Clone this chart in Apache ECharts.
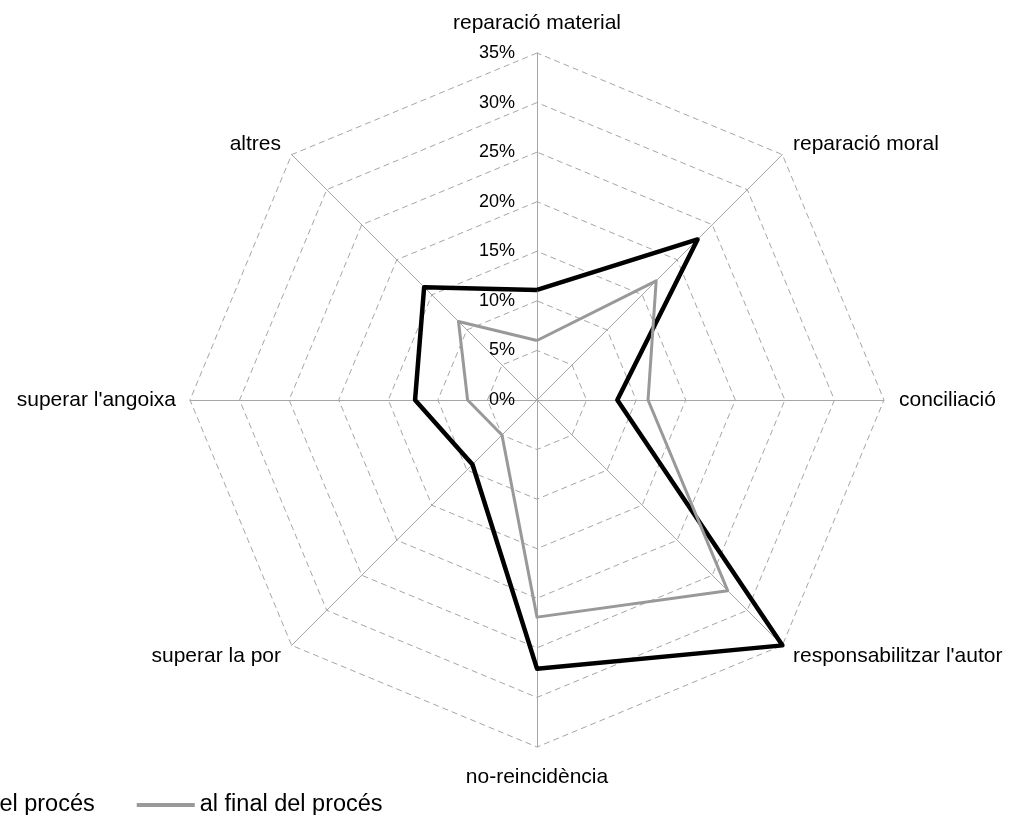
<!DOCTYPE html>
<html>
<head>
<meta charset="utf-8">
<script src="https://cdn.jsdelivr.net/npm/echarts@6/dist/echarts.min.js"></script>
<style>html,body{margin:0;padding:0;background:#fff}#c{width:1012px;height:815px}</style>
</head>
<body>
<div id="c"></div>
<script>
// Categories listed in ECharts radar order (starting at top, going counterclockwise)
const categories = ["reparació material", "altres", "superar l'angoixa", "superar la por",
  "no-reincidència", "responsabilitzar l'autor", "conciliació", "reparació moral"];
const seriesNames = ["a l'inici del procés", "al final del procés"];
const inici = [11.1, 16.1, 12.3, 9.2, 27.1, 35.0, 8.1, 22.9];
const final = [6.0, 11.2, 7.0, 5.0, 21.9, 27.2, 11.2, 17.0];
const axisMax = 35;

const chart = echarts.init(document.getElementById('c'));
const font = "'Liberation Sans', Arial, sans-serif";
const gaps = [19, 15, 14, 15, 20, 15, 15, 15];
chart.setOption({
  animation: false,
  backgroundColor: '#fff',
  legend: {
    left: -158, top: 788,
    itemWidth: 58, itemHeight: 4, itemGap: 42, icon: 'rect',
    textStyle: {fontSize: 23.5, color: '#000', fontFamily: font},
    data: seriesNames
  },
  radar: {
    center: [537, 400], radius: 347, startAngle: 90, shape: 'polygon', splitNumber: 7,
    indicator: categories.map((n, i) => {
      const o = {name: n, min: 0, max: axisMax, nameGap: gaps[i]};
      if (i === 0) o.axisLabel = {show: true, formatter: '{value}%', color: '#000', fontSize: 18, fontFamily: font, margin: 22};
      return o;
    }),
    nameGap: 15,
    axisName: {color: '#000', fontSize: 21, fontFamily: font},
    splitLine: {lineStyle: {color: '#a6a6a6', width: 1, type: [6, 4]}},
    splitArea: {show: false},
    axisLine: {lineStyle: {color: '#a6a6a6', width: 1}},
    axisTick: {show: false},
    axisLabel: {show: false}
  },
  series: [{
    type: 'radar',
    symbol: 'none',
    data: [
      {name: seriesNames[0], value: inici, lineStyle: {color: '#000', width: 4.5}, itemStyle: {color: '#000'}},
      {name: seriesNames[1], value: final, lineStyle: {color: '#999', width: 3}, itemStyle: {color: '#999'}}
    ]
  }]
});
</script>
</body>
</html>
